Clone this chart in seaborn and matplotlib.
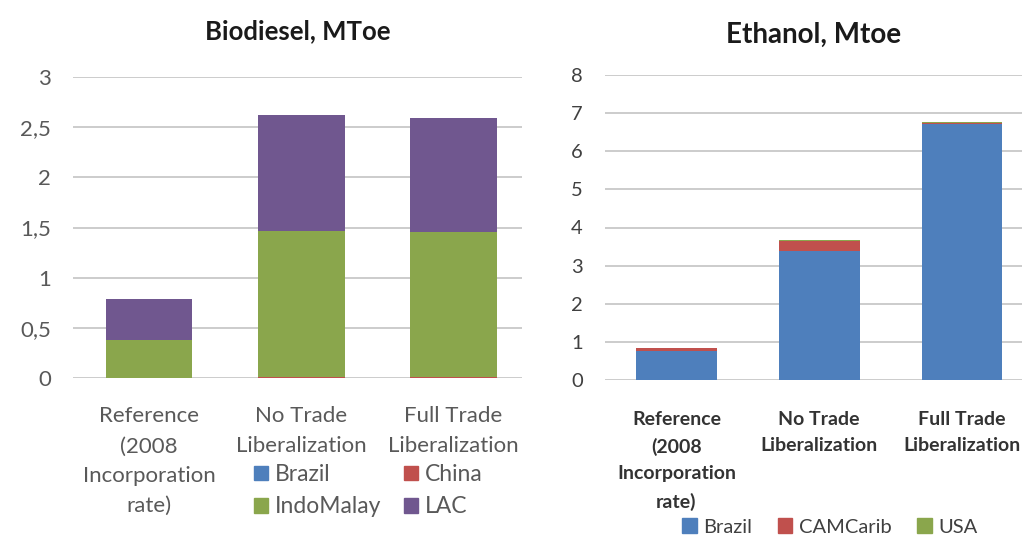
import pandas as pd
import numpy as np
import matplotlib.pyplot as plt
import seaborn as sns
from matplotlib.patches import Patch

# Data
scenarios = ['Reference\n(2008\nIncorporation\nrate)', 'No Trade\nLiberalization', 'Full Trade\nLiberalization']

bio_series = ['Brazil', 'China', 'IndoMalay', 'LAC']
bio_brazil = [0.0, 0.0, 0.0]
bio_china = [0.0, 0.01, 0.01]
bio_indomalay = [0.38, 1.46, 1.45]
bio_lac = [0.41, 1.15, 1.13]

eth_series = ['Brazil', 'CAMCarib', 'USA']
eth_brazil = [0.77, 3.38, 6.72]
eth_camcarib = [0.06, 0.27, 0.01]
eth_usa = [0.02, 0.01, 0.03]

bio_colors = {'Brazil': '#4E7FBC', 'China': '#C0504D', 'IndoMalay': '#8AA64C', 'LAC': '#70578F'}
eth_colors = {'Brazil': '#4E7FBC', 'CAMCarib': '#C0504D', 'USA': '#8AA64C'}

bio_df = pd.DataFrame({'scenario': scenarios, 'Brazil': bio_brazil, 'China': bio_china,
                       'IndoMalay': bio_indomalay, 'LAC': bio_lac})
eth_df = pd.DataFrame({'scenario': scenarios, 'Brazil': eth_brazil, 'CAMCarib': eth_camcarib,
                       'USA': eth_usa})

sns.set_style('white')
plt.rcParams['font.family'] = ['Lato', 'DejaVu Sans']

fig = plt.figure(figsize=(10.24, 5.36), dpi=100)
ax1 = fig.add_axes([73 / 1024, 1 - 378 / 536, 449 / 1024, 301 / 536])
ax2 = fig.add_axes([605 / 1024, 1 - 380 / 536, 417 / 1024, 305 / 536])


def stacked(ax, df, series, colors, width):
    # draw cumulative sums from the top series down so each layer shows
    cum = df[series].cumsum(axis=1)
    for s in reversed(series):
        sns.barplot(x=df['scenario'], y=cum[s], color=colors[s], width=width,
                    saturation=1, ax=ax, linewidth=0)


stacked(ax1, bio_df, bio_series, bio_colors, 0.57)
stacked(ax2, eth_df, eth_series, eth_colors, 0.565)

grid_c = '#C8C8C8'
for ax in (ax1, ax2):
    sns.despine(ax=ax, left=True, bottom=True)
    ax.set_axisbelow(True)
    ax.yaxis.grid(True, color=grid_c, linewidth=1.3)
    ax.tick_params(axis='both', length=0)
    ax.set_xlabel('')
    ax.set_ylabel('')

ax1.set_xlim(-0.5, 2.45)
ax1.set_ylim(0, 3)
ax1.set_yticks(np.arange(0, 3.01, 0.5))
ax1.set_yticklabels(['0', '0,5', '1', '1,5', '2', '2,5', '3'], fontsize=16, color='#595959')
ax1.tick_params(axis='y', pad=16)
ax1.set_xticks(range(3))
ax1.set_xticklabels(scenarios, fontsize=16, color='#595959', linespacing=1.62)
ax1.tick_params(axis='x', pad=20.5)
ax1.set_title('Biodiesel, MToe', fontsize=18.5, fontweight='bold', color='#1a1a1a', pad=27)

ax2.set_xlim(-0.5, 2.42)
ax2.set_ylim(0, 8)
ax2.set_yticks(range(0, 9))
ax2.set_yticklabels([str(i) for i in range(9)], fontsize=14.5, color='#404040')
ax2.tick_params(axis='y', pad=16)
ax2.set_xticks(range(3))
ax2.set_xticklabels(scenarios, fontsize=14, color='#333333', fontweight='bold', linespacing=1.68)
ax2.tick_params(axis='x', pad=22)
ax2.set_title('Ethanol, Mtoe', fontsize=20, fontweight='bold', color='#1a1a1a', pad=23.5)

bio_order = ['Brazil', 'IndoMalay', 'China', 'LAC']
bio_handles = [Patch(color=bio_colors[s], label=s) for s in bio_order]
leg1 = fig.legend(handles=bio_handles, ncol=2, frameon=False, loc='upper left',
                  bbox_to_anchor=(254 / 1024, 1 - 464 / 536), fontsize=16.5,
                  borderpad=0, borderaxespad=0, handlelength=0.6, handleheight=0.6,
                  handletextpad=0.3, columnspacing=1.0, labelspacing=0.5)
for t in leg1.get_texts():
    t.set_color('#595959')

eth_handles = [Patch(color=eth_colors[s], label=s) for s in eth_series]
leg2 = fig.legend(handles=eth_handles, ncol=3, frameon=False, loc='center left',
                  bbox_to_anchor=(682 / 1024, 1 - 527 / 536), fontsize=14.5,
                  borderpad=0, borderaxespad=0, handlelength=0.72, handleheight=0.72,
                  handletextpad=0.35, columnspacing=1.25)
for t in leg2.get_texts():
    t.set_color('#404040')

fig.savefig('out.png', dpi=100, facecolor='white')
